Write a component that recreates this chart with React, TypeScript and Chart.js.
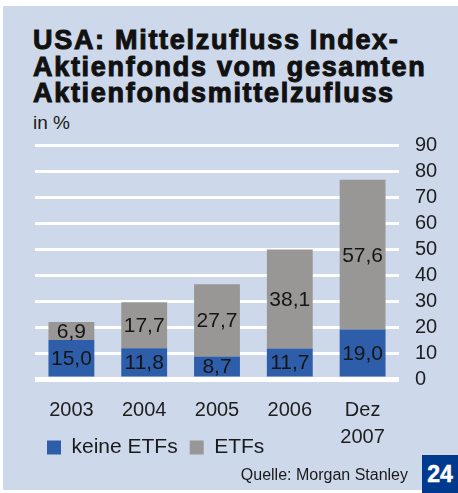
import React, { useEffect, useRef } from "react";
import { Chart, registerables } from "chart.js";

Chart.register(...registerables);

const categories: (string | string[])[] = ["2003", "2004", "2005", "2006", ["Dez", "2007"]];
const keineEtfs = [15.0, 11.8, 8.7, 11.7, 19.0];
const etfs = [6.9, 17.7, 27.7, 38.1, 57.6];
const seriesNames = ["keine ETFs", "ETFs"];
const titleLines = ["USA: Mittelzufluss Index-", "Aktienfonds vom gesamten", "Aktienfondsmittelzufluss"];
const unitLabel = "in %";
const sourceLabel = "Quelle: Morgan Stanley";
const pageNumber = "24";

const BLUE = "rgb(46,94,170)";
const GRAY = "rgb(153,151,149)";
const BG = "rgb(205,216,234)";
const FONT = "'Liberation Sans', Arial, Helvetica, sans-serif";

const valueLabels = {
  id: "valueLabels",
  afterDatasetsDraw(chart: any) {
    const ctx = chart.ctx;
    ctx.save();
    ctx.font = `21px ${FONT}`;
    ctx.fillStyle = "#151515";
    ctx.textAlign = "center";
    ctx.textBaseline = "middle";
    chart.data.datasets.forEach((ds: any, di: number) => {
      const meta = chart.getDatasetMeta(di);
      meta.data.forEach((el: any, i: number) => {
        const { x, y, base } = el.getProps(["x", "y", "base"], true);
        const v = ds.data[i] as number;
        ctx.fillText(v.toFixed(1).replace(".", ","), x, (y + base) / 2 + 1);
      });
    });
    ctx.restore();
  },
};

// legend sits beside the two-line "Dez 2007" label: lift it next to the category axis
const legendLift = {
  id: "legendLift",
  afterLayout(chart: any) {
    const lg = chart.legend;
    if (lg) {
      lg.top -= 24;
      lg.bottom -= 24;
    }
  },
};

export default function App() {
  const ref = useRef<HTMLCanvasElement>(null);
  useEffect(() => {
    if (!ref.current) return;
    const chart = new Chart(ref.current, {
      type: "bar",
      data: {
        labels: categories,
        datasets: [
          { label: seriesNames[0], data: keineEtfs, backgroundColor: BLUE, barPercentage: 0.63, categoryPercentage: 1 },
          { label: seriesNames[1], data: etfs, backgroundColor: GRAY, barPercentage: 0.63, categoryPercentage: 1 },
        ],
      },
      options: {
        animation: false,
        responsive: false,
        devicePixelRatio: 1,
        layout: { padding: { left: 35, right: 0, top: 0, bottom: 0 } },
        scales: {
          x: {
            stacked: true,
            grid: { display: false, drawTicks: false },
            border: { display: false },
            ticks: {
              font: { family: FONT, size: 20, lineHeight: 1.35 },
              color: "#1e1e1e",
              padding: 18,
              maxRotation: 0,
              autoSkip: false,
            },
            afterFit: (s: any) => { s.height = 70; },
          },
          y: {
            stacked: true,
            position: "right",
            min: 0,
            max: 90,
            grid: {
              color: "#ffffff",
              lineWidth: (c: any) => (c.tick && c.tick.value === 0 ? 5 : 3),
              drawTicks: true,
              tickLength: 13,
              tickColor: "rgba(0,0,0,0)",
            },
            border: { display: false },
            ticks: { stepSize: 10, autoSkip: false, font: { family: FONT, size: 20 }, color: "#1e1e1e", padding: 3 },
            afterFit: (s: any) => { s.width = 59; },
          },
        },
        plugins: {
          legend: {
            position: "bottom",
            align: "start",
            labels: { boxWidth: 14, boxHeight: 14, padding: 12, font: { family: FONT, size: 21 }, color: "#1a1a1a" },
          },
          title: { display: false },
          tooltip: { enabled: false },
        },
      },
      plugins: [valueLabels, legendLift],
    } as any);
    return () => chart.destroy();
  }, []);

  return (
    <div style={{ position: "fixed", left: 0, top: 0, width: 458, height: 493, background: "#fff", overflow: "hidden" }}>
      <div style={{ position: "absolute", left: 3, top: 6, width: 455, height: 484, background: BG }} />
      <div
        style={{
          position: "absolute",
          left: 33,
          top: 27,
          fontFamily: FONT,
          fontWeight: 700,
          fontSize: 27,
          lineHeight: "26.5px",
          letterSpacing: 1.7,
          color: "#111",
          WebkitTextStroke: "1px #111",
          whiteSpace: "nowrap",
        }}
      >
        {titleLines.map((l, i) => (
          <div key={i}>{l}</div>
        ))}
      </div>
      <div style={{ position: "absolute", left: 33, top: 113, fontFamily: FONT, fontSize: 19, lineHeight: "19px", color: "#1a1a1a" }}>
        {unitLabel}
      </div>
      <canvas ref={ref} width={458} height={362} style={{ position: "absolute", left: 0, top: 130, width: 458, height: 362 }} />
      <div
        style={{
          position: "absolute",
          right: 50,
          top: 466,
          fontFamily: FONT,
          fontSize: 16,
          lineHeight: "18px",
          color: "#1a1a1a",
          whiteSpace: "nowrap",
        }}
      >
        {sourceLabel}
      </div>
      <div
        style={{
          position: "absolute",
          left: 422,
          top: 455,
          width: 36,
          height: 38,
          background: "rgb(0,58,143)",
          color: "#fff",
          fontFamily: FONT,
          fontWeight: 700,
          fontSize: 23,
          lineHeight: "38px",
          textAlign: "center",
          WebkitTextStroke: "0.5px #fff",
        }}
      >
        {pageNumber}
      </div>
    </div>
  );
}
